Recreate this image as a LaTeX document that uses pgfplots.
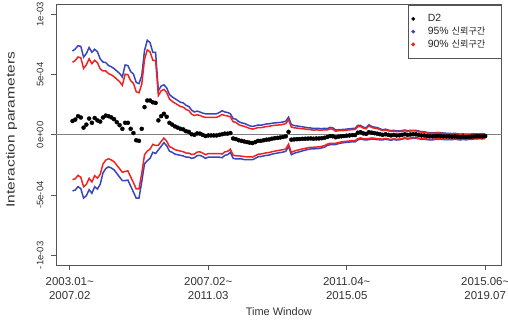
\documentclass[border=0pt]{standalone}
\usepackage{fontspec}
\setmainfont{Liberation Sans}
\newfontfamily\kr{Noto Sans CJK KR}
\usepackage{pgfplots}
\usepackage{pgfplotstable}
\pgfplotsset{compat=1.18}
\definecolor{cblue}{RGB}{55,70,190}
\definecolor{cred}{RGB}{240,35,35}
\definecolor{axgray}{RGB}{85,85,85}
\pgfplotstableread{
i d u95 u90 l90 l95
1 1.15 6.95 6.02 -3.72 -4.65
2 1.27 7.12 6.18 -3.64 -4.58
3 1.55 7.40 6.46 -3.36 -4.30
4 1.44 7.34 6.40 -3.52 -4.46
5 0.60 6.45 5.51 -4.31 -5.25
6 0.85 6.75 5.81 -4.11 -5.05
7 1.35 7.25 6.31 -3.61 -4.55
8 1.00 6.85 5.91 -3.91 -4.85
9 1.40 7.10 6.19 -3.39 -4.30
10 1.20 6.90 5.99 -3.59 -4.50
11 1.10 6.30 5.47 -3.27 -4.10
12 1.44 6.04 5.30 -2.42 -3.16
13 1.60 6.00 5.30 -2.10 -2.80
14 1.55 5.75 5.08 -1.98 -2.65
15 1.45 5.65 4.98 -2.08 -2.75
16 1.30 5.50 4.83 -2.23 -2.90
17 1.05 5.30 4.62 -2.52 -3.20
18 0.80 5.10 4.41 -2.81 -3.50
19 0.50 4.80 4.11 -3.11 -3.80
20 1.00 5.80 5.03 -3.03 -3.80
21 1.00 5.75 4.99 -2.99 -3.75
22 0.50 5.25 4.49 -3.49 -4.25
23 0.15 5.05 4.27 -3.97 -4.75
24 -0.45 4.35 3.58 -4.48 -5.25
25 -0.50 4.25 3.49 -4.49 -5.25
26 0.50 4.90 4.20 -3.20 -3.90
27 2.30 7.00 6.25 -1.65 -2.40
28 2.85 7.85 7.05 -1.35 -2.15
29 2.85 7.65 6.88 -1.18 -1.95
30 2.70 6.85 6.19 -0.79 -1.45
31 2.65 6.85 6.18 -0.88 -1.55
32 1.20 3.65 3.26 -0.86 -1.25
33 1.55 4.05 3.65 -0.55 -0.95
34 1.75 4.15 3.77 -0.27 -0.65
35 1.50 3.90 3.52 -0.52 -0.90
36 1.00 3.35 2.97 -0.97 -1.35
37 0.85 3.15 2.78 -1.08 -1.45
38 0.70 3.00 2.63 -1.23 -1.60
39 0.60 2.85 2.49 -1.29 -1.65
40 0.50 2.70 2.35 -1.35 -1.70
41 0.45 2.65 2.30 -1.40 -1.75
42 0.30 2.45 2.11 -1.51 -1.85
43 0.25 2.35 2.01 -1.51 -1.85
44 0.05 2.05 1.73 -1.63 -1.95
45 0.00 1.90 1.60 -1.60 -1.90
46 0.12 1.97 1.67 -1.43 -1.73
47 0.10 1.90 1.61 -1.41 -1.70
48 0.00 1.80 1.51 -1.51 -1.80
49 -0.10 1.75 1.45 -1.65 -1.95
50 -0.05 1.75 1.46 -1.56 -1.85
51 -0.05 1.75 1.46 -1.56 -1.85
52 -0.05 1.75 1.46 -1.56 -1.85
53 -0.05 1.75 1.46 -1.56 -1.85
54 0.00 1.85 1.55 -1.55 -1.85
55 0.05 2.00 1.69 -1.59 -1.90
56 0.10 1.90 1.61 -1.41 -1.70
57 0.10 1.85 1.57 -1.37 -1.65
58 0.15 1.75 1.49 -1.19 -1.45
59 -0.30 1.35 1.09 -1.69 -1.95
60 -0.35 1.30 1.04 -1.74 -2.00
61 -0.45 1.10 0.85 -1.75 -2.00
62 -0.50 1.00 0.76 -1.76 -2.00
63 -0.55 0.95 0.71 -1.81 -2.05
64 -0.60 0.85 0.62 -1.82 -2.05
65 -0.65 0.75 0.53 -1.83 -2.05
66 -0.68 0.70 0.48 -1.84 -2.06
67 -0.60 0.75 0.53 -1.73 -1.95
68 -0.50 0.82 0.61 -1.61 -1.82
69 -0.50 0.80 0.59 -1.59 -1.80
70 -0.45 0.85 0.64 -1.54 -1.75
71 -0.40 0.90 0.69 -1.49 -1.70
72 -0.38 0.92 0.71 -1.47 -1.68
73 -0.32 0.96 0.76 -1.40 -1.60
74 -0.28 0.99 0.79 -1.35 -1.55
75 -0.25 1.01 0.81 -1.31 -1.51
76 -0.22 1.03 0.83 -1.27 -1.47
77 -0.18 1.07 0.87 -1.23 -1.43
78 -0.12 1.13 0.93 -1.17 -1.37
79 0.25 1.47 1.27 -0.77 -0.97
80 -0.40 0.85 0.65 -1.45 -1.65
81 -0.38 0.77 0.59 -1.35 -1.53
82 -0.36 0.74 0.56 -1.28 -1.46
83 -0.35 0.70 0.53 -1.23 -1.40
84 -0.33 0.67 0.51 -1.17 -1.33
85 -0.32 0.63 0.48 -1.12 -1.27
86 -0.31 0.59 0.45 -1.07 -1.21
87 -0.30 0.57 0.43 -1.03 -1.17
88 -0.32 0.53 0.39 -1.03 -1.17
89 -0.30 0.54 0.41 -1.01 -1.14
90 -0.30 0.53 0.40 -1.00 -1.13
91 -0.28 0.52 0.39 -0.95 -1.08
92 -0.24 0.54 0.42 -0.90 -1.02
93 -0.18 0.52 0.41 -0.77 -0.88
94 -0.10 0.62 0.50 -0.70 -0.82
95 -0.12 0.58 0.47 -0.71 -0.82
96 -0.20 0.40 0.30 -0.70 -0.80
97 -0.15 0.43 0.34 -0.64 -0.73
98 -0.12 0.44 0.35 -0.59 -0.68
99 -0.10 0.45 0.36 -0.56 -0.65
100 -0.07 0.48 0.39 -0.53 -0.62
101 -0.05 0.50 0.41 -0.51 -0.60
102 -0.02 0.53 0.44 -0.48 -0.57
103 -0.02 0.54 0.45 -0.49 -0.58
104 0.18 0.78 0.68 -0.32 -0.42
105 0.22 0.78 0.69 -0.25 -0.34
106 0.12 0.64 0.56 -0.32 -0.40
107 0.08 0.58 0.50 -0.34 -0.42
108 0.22 0.84 0.74 -0.30 -0.40
109 0.18 0.70 0.62 -0.26 -0.34
110 0.14 0.64 0.56 -0.28 -0.36
111 0.10 0.60 0.52 -0.32 -0.40
112 0.05 0.51 0.44 -0.34 -0.41
113 0.00 0.42 0.35 -0.35 -0.42
114 0.05 0.47 0.40 -0.30 -0.37
115 0.00 0.40 0.34 -0.34 -0.40
116 -0.05 0.35 0.29 -0.39 -0.45
117 0.00 0.38 0.32 -0.32 -0.38
118 -0.05 0.33 0.27 -0.37 -0.43
119 -0.04 0.33 0.27 -0.35 -0.41
120 0.00 0.36 0.30 -0.30 -0.36
121 0.05 0.40 0.34 -0.24 -0.30
122 0.00 0.35 0.29 -0.29 -0.35
123 0.03 0.37 0.32 -0.26 -0.31
124 0.05 0.38 0.33 -0.23 -0.28
125 0.04 0.37 0.32 -0.24 -0.29
126 0.00 0.32 0.27 -0.27 -0.32
127 -0.05 0.27 0.22 -0.32 -0.37
128 -0.05 0.26 0.21 -0.31 -0.36
129 -0.10 0.20 0.15 -0.35 -0.40
130 -0.12 0.18 0.13 -0.37 -0.42
131 -0.13 0.16 0.11 -0.37 -0.42
132 -0.10 0.18 0.14 -0.34 -0.38
133 -0.08 0.20 0.16 -0.32 -0.36
134 -0.10 0.17 0.13 -0.33 -0.37
135 -0.12 0.15 0.11 -0.35 -0.39
136 -0.13 0.13 0.09 -0.35 -0.39
137 -0.13 0.13 0.09 -0.35 -0.39
138 -0.15 0.10 0.06 -0.36 -0.40
139 -0.12 0.13 0.09 -0.33 -0.37
140 -0.15 0.09 0.05 -0.35 -0.39
141 -0.18 0.06 0.02 -0.38 -0.42
142 -0.15 0.08 0.04 -0.34 -0.38
143 -0.18 0.05 0.01 -0.37 -0.41
144 -0.16 0.06 0.02 -0.34 -0.38
145 -0.15 0.07 0.03 -0.33 -0.37
146 -0.13 0.08 0.05 -0.31 -0.34
147 -0.12 0.09 0.06 -0.30 -0.33
148 -0.12 0.08 0.05 -0.29 -0.32
149 -0.13 0.07 0.04 -0.30 -0.33
150 -0.10 0.10 0.07 -0.27 -0.30
}\data
\begin{document}
\begin{tikzpicture}
\useasboundingbox (-56bp,-56bp) rectangle (452bp,265bp);
\begin{axis}[
  at={(0,0)}, anchor=south west,
  scale only axis, width=445.7bp, height=260.3bp,
  xmin=-4.96, xmax=155.96, ymin=-10.8, ymax=10.8,
  axis line style={axgray, line width=0.8pt},
  every tick/.style={axgray, line width=0.8pt},
  tick align=outside, major tick length=5bp,
  xtick={0,50,100,150}, ytick={-10,-5,0,5,10},
  xtick pos=bottom, ytick pos=left,
  xticklabels={2003.01\textasciitilde\\2007.02, 2007.02\textasciitilde\\2011.03, 2011.04\textasciitilde\\2015.05, 2015.06\textasciitilde\\2019.07},
  yticklabels={\rotatebox{90}{-1e-03},\rotatebox{90}{-5e-04},\rotatebox{90}{0e+00},\rotatebox{90}{5e-04},\rotatebox{90}{1e-03}},
  xticklabel style={align=center, font=\fontsize{11.5}{14}\selectfont, text=black!80, yshift=-4bp},
  yticklabel style={font=\fontsize{9.5}{11}\selectfont, text=black!80, anchor=east, xshift=-4bp},
  xlabel={Time Window},
  ylabel={\scalebox{1.3}[1]{Interaction parameters}},
  xlabel style={at={(axis description cs:0.5,-0.18)}, anchor=center, font=\fontsize{11}{13}\selectfont, text=black!80},
  ylabel style={at={(axis description cs:-0.1,0.52)}, anchor=center, font=\fontsize{12}{14}\selectfont, text=black!80},
  legend style={at={(1,1)}, anchor=north east, draw=axgray, line width=0.6pt,
    font=\fontsize{10.5}{12}\selectfont, text=black!85, row sep=-0.2bp, inner xsep=3bp, inner ysep=7.5bp,
    /tikz/every odd column/.append style={column sep=11bp}},
  legend cell align=left,
  clip=true,
]
\addplot[forget plot, gray, line width=0.8pt] coordinates {(-4.96,0) (155.96,0)};
\addplot[forget plot, cblue, line width=1.5pt] table[x=i, y=u95] {\data};
\addplot[forget plot, cblue, line width=1.5pt] table[x=i, y=l95] {\data};
\addplot[forget plot, cred, line width=1.5pt] table[x=i, y=u90] {\data};
\addplot[forget plot, cred, line width=1.5pt] table[x=i, y=l90] {\data};
\addplot[forget plot, only marks, mark=*, mark size=2bp, black] table[x=i, y=d] {\data};
\addlegendimage{only marks, mark=*, mark size=1.6bp, black}
\addlegendentry{D2}
\addlegendimage{only marks, mark=*, mark size=1.6bp, cblue}
\addlegendentry{95\% {\kr\fontsize{9.2}{12}\selectfont 신뢰구간}\kern11bp}
\addlegendimage{only marks, mark=*, mark size=1.6bp, cred}
\addlegendentry{90\% {\kr\fontsize{9.2}{12}\selectfont 신뢰구간}\kern11bp}
\end{axis}
\end{tikzpicture}
\end{document}
